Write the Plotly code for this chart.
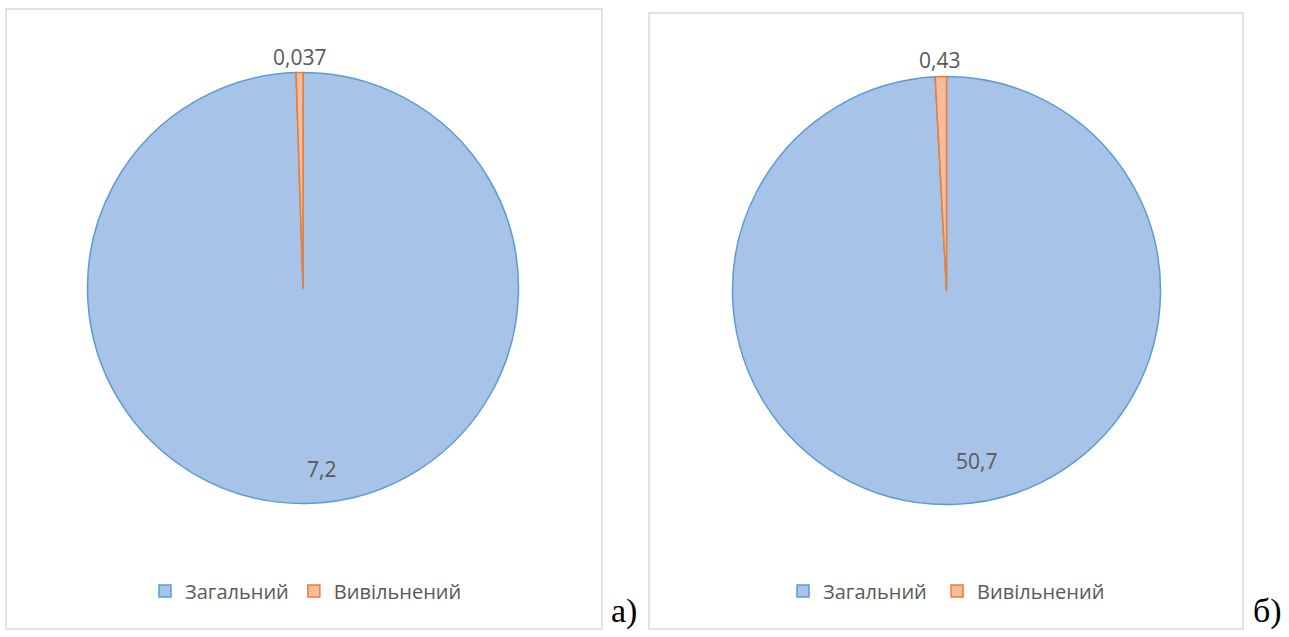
import plotly.graph_objects as go

# Data
categories = ["Загальний", "Вивільнений"]
values_a = [7.2, 0.037]
values_b = [50.7, 0.43]
panel_tags = ["а)", "б)"]

W, H = 1289, 637
fill_colors = ["#A7C3E7", "#F7BC9C"]
line_colors = ["#5B9BD5", "#ED7D31"]
text_color = "#595959"


def px_x(v):
    return v / W


def px_y(v):
    return 1 - v / H


def fmt(v):
    return str(v).replace(".", ",")


fig = go.Figure()

# Pie geometry in pixels: centre x, centre y, radius.
# The second pie gets its own legend; a trailing space keeps its slice
# names distinct so the entries are not merged into the first legend.
pies = [
    dict(values=values_a, cx=303.0, cy=288.0, r=215.5, legend="legend", suffix=""),
    dict(values=values_b, cx=946.5, cy=290.5, r=214.0, legend="legend2", suffix=" "),
]

for p in pies:
    fig.add_trace(go.Pie(
        labels=[c + p["suffix"] for c in categories],
        values=p["values"],
        sort=False,
        direction="clockwise",
        rotation=0,
        textinfo="none",
        marker=dict(colors=fill_colors, line=dict(color=line_colors, width=1.5)),
        domain=dict(
            x=[px_x(p["cx"] - p["r"]), px_x(p["cx"] + p["r"])],
            y=[px_y(p["cy"] + p["r"]), px_y(p["cy"] - p["r"])],
        ),
        legend=p["legend"],
        showlegend=True,
    ))

# Value labels
label_pos = [
    [(321, 469), (299, 57)],
    [(976, 461), (940, 60)],
]
annotations = []
for p, pos in zip(pies, label_pos):
    for v, (lx, ly) in zip(p["values"], pos):
        annotations.append(dict(
            x=px_x(lx), y=px_y(ly), xref="paper", yref="paper",
            text=fmt(v), showarrow=False,
            font=dict(family="Open Sans", size=21, color=text_color),
            xanchor="center", yanchor="middle",
        ))

# Panel tags
for tag, tx in zip(panel_tags, [624, 1267]):
    annotations.append(dict(
        x=px_x(tx), y=px_y(611), xref="paper", yref="paper",
        text=tag, showarrow=False,
        font=dict(family="Liberation Serif", size=34, color="#000000"),
        xanchor="center", yanchor="middle",
    ))

# Frames around each chart
shapes = []
for x0, y0, x1, y1 in [(6, 9, 602, 629), (649, 13, 1243, 629)]:
    shapes.append(dict(
        type="rect", xref="paper", yref="paper",
        x0=px_x(x0), x1=px_x(x1), y0=px_y(y1), y1=px_y(y0),
        line=dict(color="#D9D9D9", width=1.5), fillcolor="rgba(0,0,0,0)",
    ))

legend_common = dict(
    orientation="h", xanchor="center", yanchor="middle",
    font=dict(family="Open Sans", size=20, color=text_color),
    bgcolor="rgba(0,0,0,0)", itemclick=False, itemdoubleclick=False,
    tracegroupgap=0,
)

fig.update_layout(
    width=W, height=H,
    margin=dict(l=0, r=0, t=0, b=0),
    paper_bgcolor="white",
    plot_bgcolor="white",
    annotations=annotations,
    shapes=shapes,
    legend=dict(x=px_x(306), y=px_y(591), **legend_common),
    legend2=dict(x=px_x(949), y=px_y(591), **legend_common),
)

fig.write_html("out.html")
